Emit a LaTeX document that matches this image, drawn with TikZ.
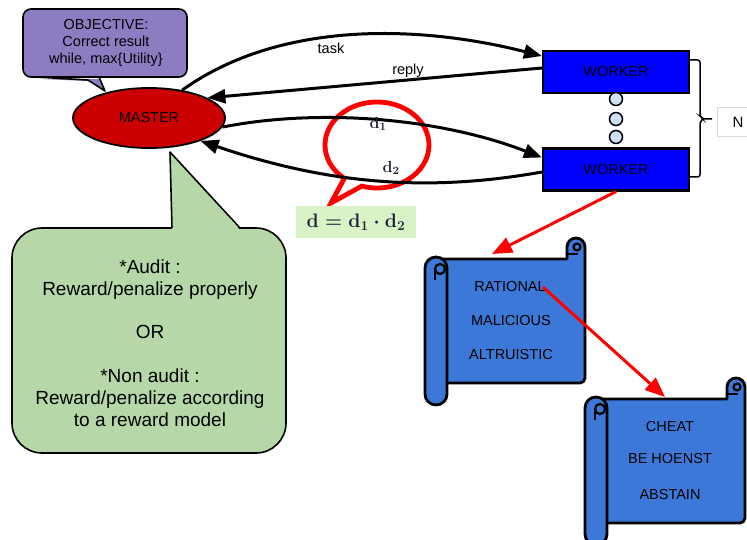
\RequirePackage{fix-cm}
\documentclass[tikz,border=0pt]{standalone}
\usepackage[no-math]{fontspec}
\setmainfont{Liberation Sans}
\usetikzlibrary{shapes.geometric,arrows.meta}
\definecolor{purp}{HTML}{8E7CC3}
\definecolor{masterred}{HTML}{CC0000}
\definecolor{wblue}{HTML}{0000FF}
\definecolor{dotblue}{HTML}{CFE2F3}
\definecolor{calgreen}{HTML}{B6D7A8}
\definecolor{formgreen}{HTML}{D9F3C6}
\definecolor{scrollblue}{HTML}{3C78D8}
\definecolor{nborder}{HTML}{D9D9D9}
\definecolor{formtext}{HTML}{1F1F3A}
\newcommand\myfs[2]{\fontsize{#1}{#2}\selectfont}
\tikzset{
  lbl/.style={font=\myfs{14.5}{17}, inner sep=0pt},
  arr/.style={line width=3pt, -{Triangle[length=18pt,width=14pt]}},
  redarr/.style={draw=red, line width=3pt, -{Triangle[length=20pt,width=16pt]}},
  worker/.style={draw=black, line width=2.2pt, fill=wblue, minimum width=146pt, minimum height=42pt, font=\myfs{14.5}{17}},
  masterstyle/.style={ellipse, draw=black, line width=1.8pt, fill=masterred, minimum width=152pt, minimum height=60pt, inner sep=0pt, font=\myfs{14.5}{17}},
  dotc/.style={circle, draw=black, line width=1.5pt, fill=dotblue, minimum size=13pt, inner sep=0pt},
  scrolltxt/.style={font=\myfs{14.5}{17}, inner sep=0pt},
  mathbig/.style={font=\myfs{19.5}{22}\boldmath, text=formtext},
  mathsmall/.style={font=\myfs{16}{18}\boldmath, text=formtext, inner sep=0pt},
  scrollpic/.pic={
    \filldraw[fill=scrollblue, line width=2.8pt, line join=round]
      (11,2) -- (142,2) -- (142,-10) arc[start angle=180,end angle=360,radius=9]
      -- (160,121) arc[start angle=0,end angle=90,radius=5] -- (11,126) -- cycle;
    \draw[line width=2.4pt] (143,-3) -- (153,-3);
    \filldraw[fill=scrollblue, line width=2.2pt] (152,-10) circle (3.5);
    \filldraw[fill=scrollblue, line width=2.8pt, rounded corners=10.9pt] (0,0) rectangle (22,148);
    \filldraw[fill=scrollblue, line width=2.2pt] (15,12) circle (5);
    \draw[line width=2.4pt] (10,12) -- (10,23);
  }
}
\begin{document}
\begin{tikzpicture}[x=1pt,y=-1pt]
\useasboundingbox (0,0) rectangle (747,540);
\clip (0,0) rectangle (747,540);

% green callout
\filldraw[fill=calgreen, line width=1.6pt, rounded corners=30pt] (12,228) rectangle (286,453);
\fill[calgreen] (172,230) -- (170,152) -- (240,230) -- cycle;
\draw[line width=1.6pt, line join=round] (172,228) -- (170,152) -- (240,228);
\node[font=\myfs{19}{21.9}, align=center, inner sep=0pt] (auditnote) at (150,343)
  {*Audit :\\Reward/penalize properly\\[21.9pt]OR\\[21.9pt]*Non audit :\\Reward/penalize according\\to a reward model};

% purple callout
\filldraw[fill=purp, line width=1.6pt, rounded corners=8pt] (23,9) rectangle (187,77);
\fill[purp] (36,78.8) -- (88,81) -- (105,91) -- (99,78.8) -- cycle;
\draw[line width=1.6pt, line join=round] (36,77) -- (88,80) -- (105,91) -- (99,77);
\node[font=\myfs{14.5}{17}, align=center, inner sep=0pt] (objective) at (106,43)
  {OBJECTIVE:\\Correct result\\while, max\{Utility\}};

% red callout
\draw[red, line width=4.8pt, line join=miter]
  (377,145) ++(129:52 and 43) arc[start angle=129, end angle=467, x radius=52, y radius=43]
  -- (331,203) -- cycle;

% formula box
\node[mathbig, fill=formgreen, minimum width=120pt, minimum height=32pt, inner sep=0pt] (formula) at (356,222)
  {$\mathbf{d}=\mathbf{d}_{\mathbf{1}}\cdot\mathbf{d}_{\mathbf{2}}$};

% master and workers
\node[masterstyle] (master) at (149,118) {MASTER};
\node[worker] (w1) at (616,72) {WORKER};
\node[worker] (w2) at (616,169.5) {WORKER};
\node[dotc] (dot1) at (616,99) {};
\node[dotc] (dot2) at (616,119) {};
\node[dotc] (dot3) at (616,137) {};

% brace and N
\draw[line width=1.5pt, rounded corners=2.5pt] (690,60) -- (700,60) -- (700,116) -- (703,119) -- (712,119);
\draw[line width=1.5pt, rounded corners=2.5pt] (690,177) -- (700,177) -- (700,122) -- (703,119);
\node[draw=nborder, line width=1pt, minimum width=42pt, minimum height=29pt, font=\myfs{15}{17}] (nbox) at (738,122.5) {N};

% arrows master <-> workers
\draw[arr] (master.40) .. controls (280,20) and (420,25) .. ([yshift=16pt]w1.west);
\draw[arr] ([yshift=4pt]w1.west) -- (master.19);
\draw[arr] (master.-7) .. controls (320,108) and (440,118) .. ([yshift=12pt]w2.west);
\draw[arr] ([yshift=-2.5pt]w2.west) .. controls (430,192) and (330,185) .. (master.-24);
\node[lbl] (tasklbl) at (331,48) {task};
\node[lbl] (replylbl) at (408,71) {reply};
\node[mathsmall] (d1lbl) at (378,124) {$\mathbf{d}_{\mathbf{1}}$};
\node[mathsmall] (d2lbl) at (391,168) {$\mathbf{d}_{\mathbf{2}}$};

% scrolls
\pic at (425,257) {scrollpic};
\pic at (585,397) {scrollpic};
\node[scrolltxt] (rational) at (510,287) {RATIONAL};
\node[scrolltxt] (malicious) at (511,321) {MALICIOUS};
\node[scrolltxt] (altruistic) at (511,355) {ALTRUISTIC};
\node[scrolltxt] (cheat) at (670,427) {CHEAT};
\node[scrolltxt] (behonest) at (670,459) {BE HOENST};
\node[scrolltxt] (abstain) at (670,495) {ABSTAIN};

% red arrows
\coordinate (s1top) at (492,254);
\coordinate (s2top) at (665,397);
\draw[redarr] (w2.south) -- (s1top);
\draw[redarr] ([xshift=-3pt]rational.east) -- (s2top);
\end{tikzpicture}
\end{document}
